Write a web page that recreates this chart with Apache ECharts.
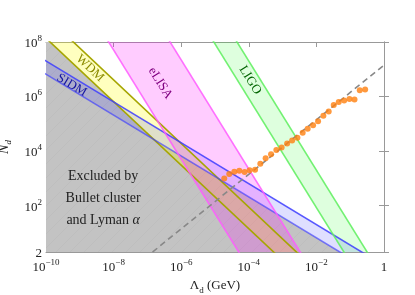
<!DOCTYPE html>
<html><head><meta charset="utf-8">
<script src="https://cdn.jsdelivr.net/npm/echarts@6/dist/echarts.min.js"></script>
<style>html,body{margin:0;padding:0;background:#fff}#c{width:415px;height:295px}</style>
</head><body><div id="c"></div>
<script>
// ---- data (Λ in GeV, N_d) ----
const xTicks = [-10, -8, -6, -4, -2, 0];           // log10 Λ tick positions
const yTicks = [2, 1e2, 1e4, 1e6, 1e8];             // N_d tick values
const wdmLower = [[1e-10, 1.38e8], [1e-3, 0.98]];
const wdmUpper = [[1e-10, 8.8e8], [1e-2, 0.41]];
const sidmUpper = [[1e-11, 1.13e8], [1, 0.64]];
const sidmLower = [[1e-11, 3.7e7], [1, 0.21]];
const elisaLeft = [[1e-9, 5.1e9], [1e-4, 0.51]];
const elisaRight = [[1e-7, 2.2e9], [1e-2, 0.22]];
const ligoLeft = [[1e-6, 8.5e9], [0.1, 0.85]];
const ligoRight = [[1e-5, 2.0e9], [1, 0.2]];
const excludedEdge = [[1e-11, 2.0e9], [1.55e-7, 2.66e4], [1, 0.21], [1, 0.1], [1e-11, 0.1]];
const dashedLine = [[1e-8, 0.141], [1, 1.41e7]];
const dotsLambda = [1.88e-5, 2.64e-5, 3.72e-5, 5.24e-5, 7.52e-5, 1.06e-4, 1.53e-4, 2.19e-4, 3.15e-4, 4.55e-4, 6.53e-4, 9.37e-4, 1.36e-3, 1.91e-3, 2.74e-3, 3.93e-3, 5.52e-3, 7.98e-3, 1.12e-2, 1.61e-2, 2.31e-2, 3.26e-2, 4.58e-2, 6.62e-2, 9.51e-2, 0.134, 0.192, 0.277];
const dotsN = [1.0e3, 1.44e3, 1.75e3, 1.91e3, 1.71e3, 1.97e3, 2.07e3, 3.44e3, 5.42e3, 7.59e3, 1.09e4, 1.37e4, 1.92e4, 2.47e4, 3.07e4, 4.68e4, 6.56e4, 8.95e4, 1.25e5, 1.96e5, 2.84e5, 4.95e5, 6.38e5, 7.18e5, 8.20e5, 7.80e5, 1.71e6, 1.81e6];
const labels = [
  {text: 'WDM', at: [2.0e-9, 1.09e7]},
  {text: 'SIDM', at: [5.8e-10, 2.6e6]},
  {text: 'eLISA', at: [2.4e-7, 3.1e6]},
  {text: 'LIGO', at: [1.1e-4, 4.0e6]},
  {text: 'Excluded by\nBullet cluster\nand Lyman {a|α}', at: [4.9e-9, 188]}
];

// ---- helpers ----
const L = p => [Math.log10(p[0]), Math.log10(p[1])];
const serif = 'Liberation Serif';

// faint mesh-like texture for the excluded region
const hatch = (() => {
  const c = document.createElement('canvas');
  c.width = 14; c.height = 14;
  const g = c.getContext('2d');
  g.fillStyle = '#c3c3c3'; g.fillRect(0, 0, 14, 14);
  g.strokeStyle = 'rgba(175,175,175,0.35)'; g.lineWidth = 0.6;
  g.beginPath(); g.moveTo(0, 14); g.lineTo(14, 0); g.stroke();
  return {image: c, repeat: 'repeat'};
})();

function polySeries(pts, fill, z) {
  return {
    type: 'custom', clip: true, z: z, silent: true,
    data: [0],
    renderItem: (params, api) => {
      const cs = params.coordSys;
      return {
        type: 'polygon',
        shape: {points: pts.map(p => api.coord(L(p)))},
        style: {fill: fill, stroke: 'none'},
        clipPath: {type: 'rect', shape: {x: cs.x, y: cs.y, width: cs.width, height: cs.height}}
      };
    }
  };
}
function lineSeries(pts, color, width, z, dash) {
  return {
    type: 'line', data: pts.map(L), showSymbol: false, symbol: 'none', clip: true, z: z, silent: true,
    lineStyle: {color: color, width: width, type: dash || 'solid'}
  };
}
const band = (a, b) => a.concat(b.slice().reverse());

const labelStyles = {
  'WDM':   {color: '#8c8c00', rot: -43, size: 13},
  'SIDM':  {color: '#1414a0', rot: -31, size: 13},
  'eLISA': {color: '#800080', rot: -58, size: 13},
  'LIGO':  {color: '#006400', rot: -58, size: 13}
};

const supFmt = v => {
  if (Math.abs(v) < 1e-9) return '{b|1}';
  return '{b|10}{s|' + String(v).replace('-', '\u2212') + '}';
};
const rich = {
  b: {fontFamily: serif, fontSize: 13, color: '#222', lineHeight: 16, verticalAlign: 'bottom'},
  s: {fontFamily: serif, fontSize: 9, color: '#222', lineHeight: 16, verticalAlign: 'top'}
};

const axisCommon = {
  axisLine: {show: true, lineStyle: {color: '#999', width: 1}},
  axisTick: {show: true, inside: true, length: 5, lineStyle: {color: '#999'}},
  splitLine: {show: false}
};

const series = [
  polySeries(excludedEdge, hatch, 1),
  polySeries(band(wdmUpper, wdmLower), 'rgba(255,255,0,0.25)', 2),
  polySeries(band(sidmUpper, sidmLower), 'rgba(40,40,255,0.15)', 2),
  polySeries(band(elisaLeft, elisaRight), 'rgba(255,0,255,0.2)', 2),
  polySeries(band(ligoLeft, ligoRight), 'rgba(0,255,0,0.13)', 2),
  lineSeries(wdmLower, '#a6a600', 1.6, 3),
  lineSeries(wdmUpper, '#a6a600', 1.6, 3),
  lineSeries(sidmUpper, 'rgba(60,60,255,0.85)', 1.6, 3),
  lineSeries(sidmLower, 'rgba(60,60,255,0.65)', 1.6, 3),
  lineSeries(elisaLeft, 'rgba(255,90,255,0.85)', 1.6, 3),
  lineSeries(elisaRight, 'rgba(255,90,255,0.85)', 1.6, 3),
  lineSeries(ligoLeft, 'rgba(100,240,100,0.9)', 1.6, 3),
  lineSeries(ligoRight, 'rgba(100,240,100,0.9)', 1.6, 3),
  lineSeries(dashedLine, '#888', 1.6, 4, [6, 4]),
  {
    type: 'scatter', z: 5, symbol: 'circle', symbolSize: 6,
    itemStyle: {color: '#ff7f0e'},
    data: dotsLambda.map((x, i) => L([x, dotsN[i]]))
  },
  {
    type: 'custom', z: 6, silent: true,
    data: labels.map((d, i) => i),
    renderItem: (params, api) => {
      const d = labels[params.dataIndex];
      const p = api.coord(L(d.at));
      const st = labelStyles[d.text];
      if (st) {
        return {type: 'text', x: p[0], y: p[1], rotation: st.rot * Math.PI / 180,
          style: {text: d.text, fill: st.color, font: st.size + 'px "' + serif + '"', align: 'center', verticalAlign: 'middle'}};
      }
      return {type: 'text', x: p[0], y: p[1],
        style: {text: d.text, fill: '#222', fontFamily: serif, fontSize: 14, lineHeight: 22, align: 'center', verticalAlign: 'middle',
          rich: {a: {fontFamily: serif, fontSize: 14, fontStyle: 'italic', fill: '#222'}}}};
    }
  }
];

const chart = echarts.init(document.getElementById('c'), null, {renderer: 'canvas'});
chart.setOption({
  animation: false,
  grid: {left: 46, right: 31, top: 42, bottom: 43, show: false, containLabel: false, outerBoundsMode: 'none'},
  xAxis: [
    Object.assign({}, axisCommon, {
      type: 'value', position: 'bottom', min: -10, max: 0, interval: 2,
      axisLabel: {formatter: supFmt, rich: rich, margin: 6},
      name: '{n|\u039b}{d|d}{n| (GeV)}', nameLocation: 'middle', nameGap: 26,
      nameTextStyle: {rich: {
        n: {fontFamily: serif, fontSize: 13, color: '#222', lineHeight: 16, verticalAlign: 'top'},
        d: {fontFamily: serif, fontSize: 9, color: '#222', lineHeight: 16, verticalAlign: 'bottom'}
      }}
    }),
    Object.assign({}, axisCommon, {
      type: 'value', position: 'top', min: -10, max: 0, interval: 2, axisLabel: {show: false}
    })
  ],
  yAxis: [
    Object.assign({}, axisCommon, {
      type: 'value', position: 'left', min: Math.log10(2), max: 8,
      axisTick: Object.assign({}, axisCommon.axisTick, {customValues: yTicks.map(Math.log10)}),
      axisLabel: {customValues: yTicks.map(Math.log10), margin: 4, rich: rich,
        formatter: v => (v < 1 ? '{b|2}' : supFmt(Math.round(v)))},
      name: '{i|N}{d|d}', nameLocation: 'middle', nameGap: 30, nameRotate: 90,
      nameTextStyle: {rich: {
        i: {fontFamily: serif, fontSize: 14, fontStyle: 'italic', color: '#222', lineHeight: 16, verticalAlign: 'top'},
        d: {fontFamily: serif, fontSize: 9, fontStyle: 'italic', color: '#222', lineHeight: 16, verticalAlign: 'bottom'}
      }}
    }),
    Object.assign({}, axisCommon, {
      type: 'value', position: 'right', min: Math.log10(2), max: 8,
      axisTick: Object.assign({}, axisCommon.axisTick, {customValues: yTicks.map(Math.log10)}),
      axisLabel: {show: false, customValues: yTicks.map(Math.log10)}
    })
  ],
  series: series
});
</script></body></html>
